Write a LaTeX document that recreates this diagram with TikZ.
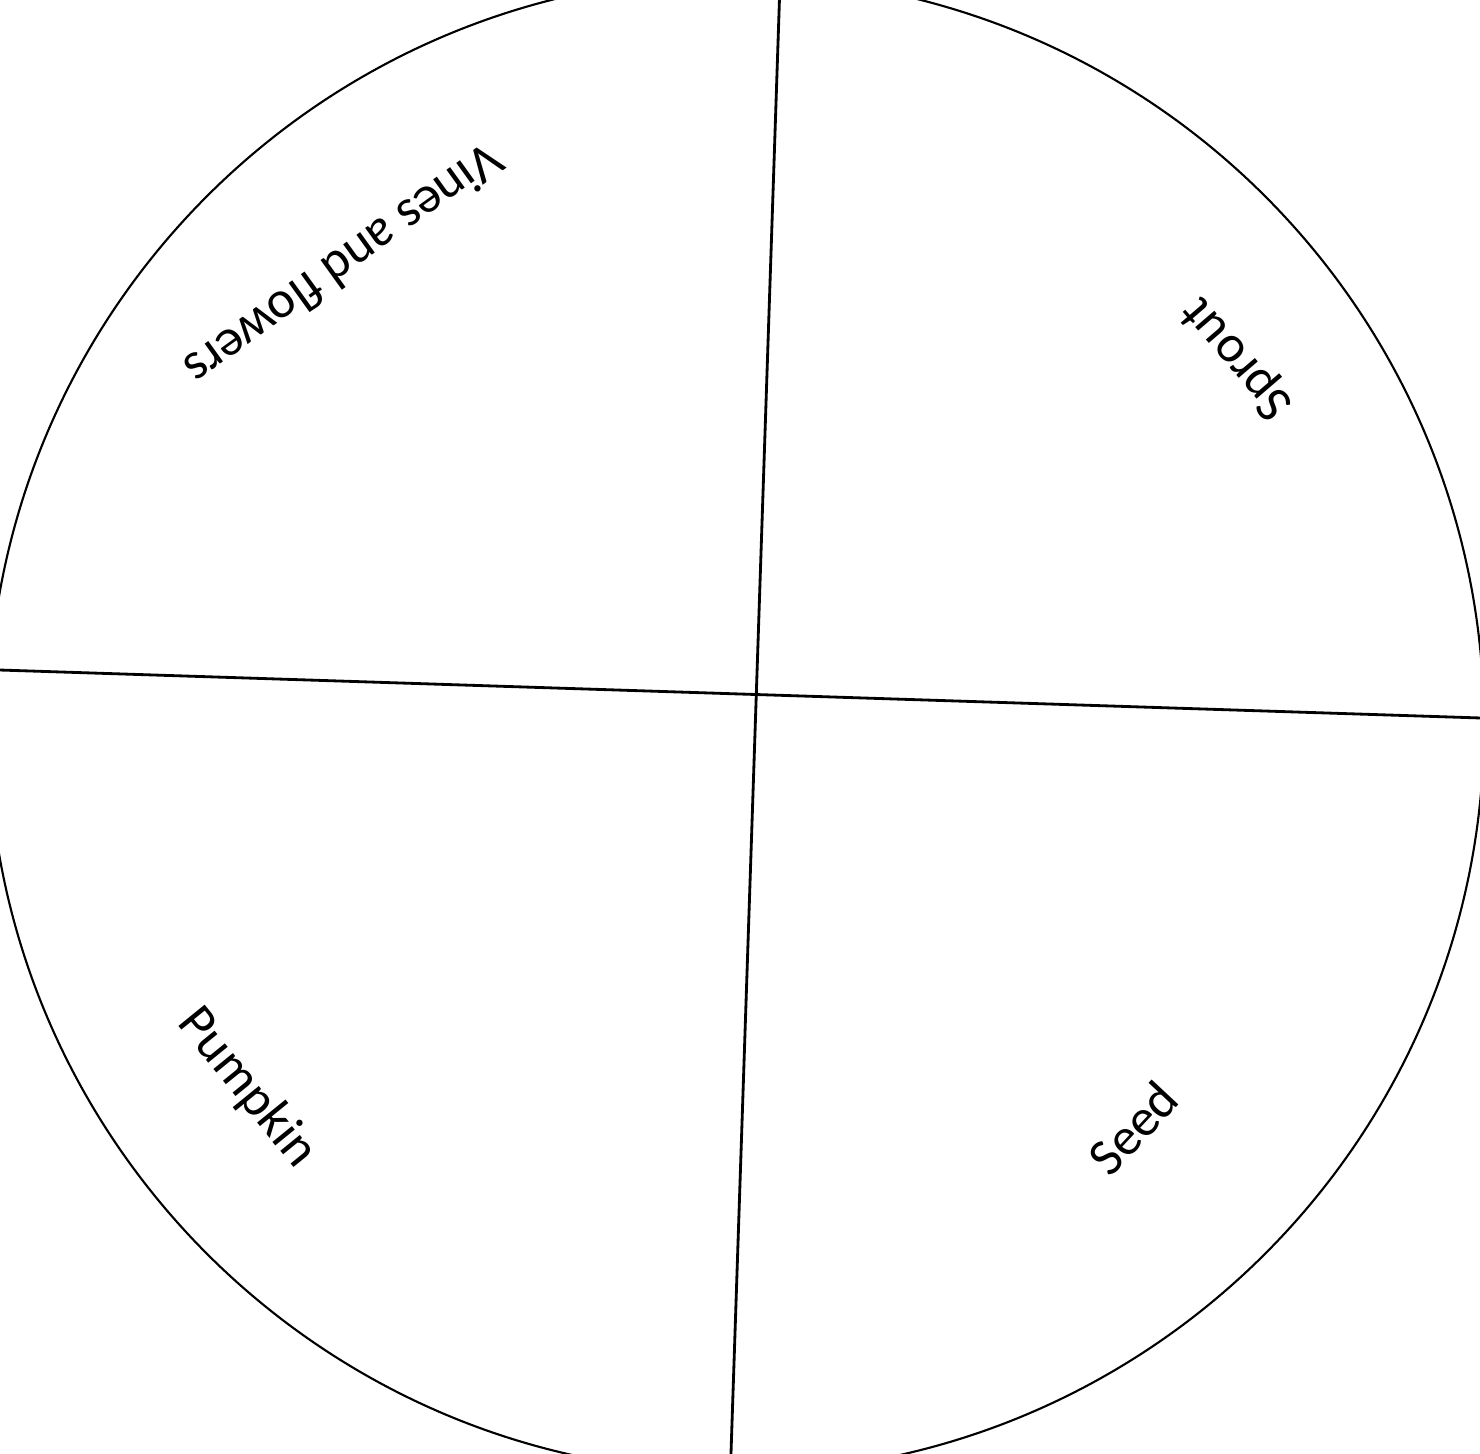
\documentclass[tikz,border=0pt]{standalone}
\usepackage{fontspec}
\setmainfont{Carlito}
\begin{document}
\begin{tikzpicture}[x=0.1mm,y=0.1mm,
  rim/.style={line width=0.6pt,black},
  divider/.style={line width=0.8pt,black},
  lbl/.style={font=\fontsize{15}{18}\selectfont,inner sep=0pt}]
\useasboundingbox (0,0) rectangle (1480,1453);
\clip (0,0) rectangle (1480,1453);
\fill[white] (0,0) rectangle (1480,1453);
% rim
\node[circle,draw,rim,minimum size=1496*0.1mm,inner sep=0pt] (rim) at (736,728) {};
% dividers
\coordinate (vtop) at (780,1470);
\coordinate (vbot) at (730.5,-15);
\coordinate (hleft) at (-10,783.3);
\coordinate (hright) at (1490,734.7);
\draw[divider] (vtop) -- (vbot);
\draw[divider] (hleft) -- (hright);
% labels
\node[lbl,rotate=215.7] (vines) at (345,1187) {Vines and flowers};
\node[lbl,rotate=130.6] (sprout) at (1238,1095) {Sprout};
\node[lbl,rotate=-50.9] (pumpkin) at (247,365) {Pumpkin};
\node[lbl,rotate=47] (seed) at (1133,325) {Seed};
\end{tikzpicture}
\end{document}
